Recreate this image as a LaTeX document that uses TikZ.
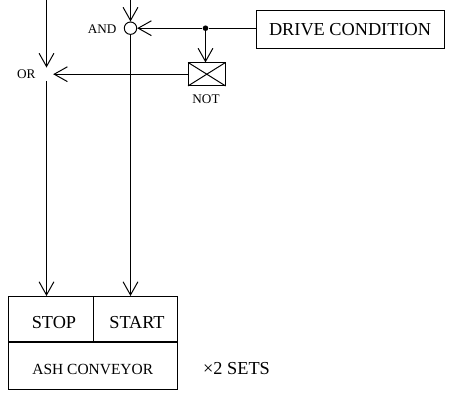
\documentclass[tikz,border=0pt]{standalone}
\usepackage{fontspec}
\setmainfont{Liberation Serif}
\usetikzlibrary{arrows.meta}
\tikzset{
  labelbig/.style={font=\fontsize{13}{15}\selectfont},
  labelsmall/.style={font=\fontsize{9.4}{11}\selectfont},
  gate/.style={circle, inner sep=0pt, minimum size=0.31cm},
  cellbox/.style={draw, rectangle, inner sep=0pt, text height=0.46cm, text depth=0pt, labelbig}
}
\begin{document}
\begin{tikzpicture}[>={Straight Barb[length=0.33cm,width=0.37cm]}, line width=0.7pt]
\useasboundingbox (0,0) rectangle (11.25,9.925);
\coordinate (ortop) at (1.1625,9.925);
\coordinate (andtop) at (3.2625,9.925);
\node[gate] (orgate) at (1.1625,8.07) {};
\node[gate, draw] (andgate) at (3.2625,9.22) {};
\node[labelsmall] (orlabel) at (0.6575,8.06) {OR};
\node[labelsmall] (andlabel) at (2.555,9.19) {AND};
\node[circle, fill, inner sep=0pt, minimum size=0.14cm] (dot) at (5.1375,9.22) {};
\node[draw, rectangle, minimum width=4.7cm, minimum height=0.94cm, labelbig] (drive) at (8.75,9.1875) {DRIVE CONDITION};
\node[draw, rectangle, minimum width=0.9125cm, minimum height=0.5625cm] (notbox) at (5.17,8.07) {};
\node[labelsmall] (notlabel) at (5.15,7.4575) {NOT};
\node[cellbox, minimum width=2.1375cm, minimum height=1.1375cm] (stop) at (1.269,1.944) {\hspace*{0.16cm}STOP};
\node[cellbox, minimum width=2.1cm, minimum height=1.1375cm] (start) at (3.3875,1.944) {\hspace*{0.075cm}START};
\node[draw, rectangle, inner sep=0pt, minimum width=4.2375cm, minimum height=1.175cm, text height=0.43cm, text depth=0pt, font=\fontsize{11}{13}\selectfont] (conveyor) at (2.319,0.7875) {ASH CONVEYOR};
\node[labelbig] (sets) at (5.9125,0.7) {×2 SETS};
\draw[->] (ortop) -- (orgate.north);
\draw[->] (andtop) -- (andgate.north);
\draw[->] (orgate.south) -- (stop.north -| orgate);
\draw[->] (andgate.south) -- (start.north -| andgate);
\draw (drive.west |- dot) -- (dot);
\draw[->] (dot) -- (andgate.east);
\draw[->] (dot) -- (notbox.north -| dot);
\draw[->] (notbox.west) -- (orgate.east);
\draw (notbox.north west) -- (notbox.south east);
\draw (notbox.south west) -- (notbox.north east);
\end{tikzpicture}
\end{document}
